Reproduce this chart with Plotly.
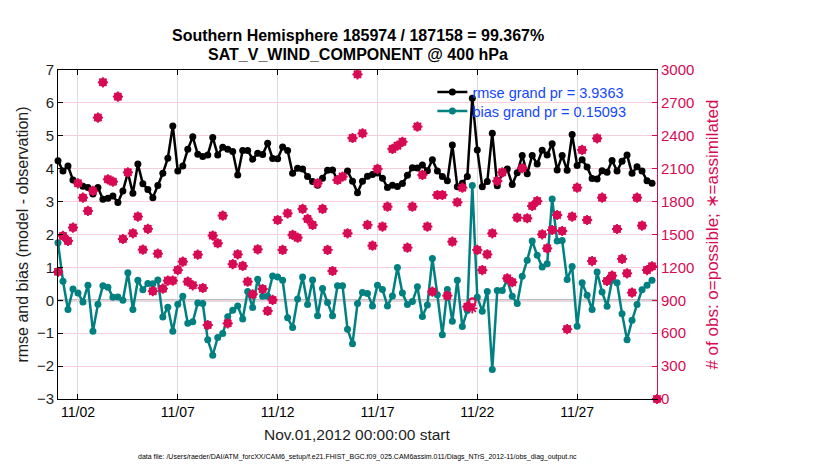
import pandas as pd
import plotly.graph_objects as go

# ---------------- data ----------------
times = pd.date_range("2012-11-01 00:00", periods=121, freq="6h")

rmse = [4.24, 3.93, 4.08, 3.66, 3.54, 3.47, 3.43, 3.23, 3.43, 3.07,
        3.10, 3.17, 2.97, 3.32, 3.88, 3.25, 4.14, 3.54, 3.37, 3.12,
        3.49, 3.86, 4.32, 5.30, 3.93, 4.08, 4.59, 4.97, 4.44, 4.37,
        4.42, 4.95, 4.42, 4.65, 4.59, 4.52, 3.81, 4.55, 4.55, 4.29,
        4.47, 4.43, 4.77, 4.31, 4.30, 4.66, 4.55, 3.86, 4.01, 3.99,
        3.76, 3.61, 3.50, 3.71, 3.95, 3.96, 3.65, 3.76, 3.93, 3.62,
        3.27, 3.62, 3.77, 3.82, 3.87, 3.71, 3.43, 3.50, 3.46, 3.55,
        3.80, 4.03, 4.02, 4.11, 3.94, 4.27, 3.93, 3.76, 3.63, 4.72,
        3.45, 3.56, 3.76, 6.14, 4.57, 3.45, 3.61, 5.08, 3.48, 3.86,
        3.99, 3.52, 3.88, 4.40, 3.85, 4.40, 4.14, 4.56, 4.42, 4.76,
        3.96, 4.40, 3.95, 5.04, 4.10, 4.27, 4.05, 3.70, 3.69, 3.94,
        3.89, 4.25, 3.93, 4.23, 4.42, 3.86, 4.06, 3.93, 3.63, 3.56,
        None]

bias = [1.75, 0.58, -0.28, 0.34, 0.22, -0.05, 0.46, -0.94, -0.12, 0.44,
        0.40, 0.09, 0.10, 0.00, 0.84, -0.28, 0.61, 0.32, 0.51, 0.50,
        0.62, -0.51, -0.21, -0.94, -0.12, 0.12, -0.70, -0.65, -0.08, -0.10,
        -1.20, -1.67, -1.13, -1.01, -0.50, -0.30, -0.17, -0.57, 0.27, -0.22,
        0.64, 0.12, 0.12, 0.74, 0.71, 0.61, -0.53, -0.83, 0.04, 0.71,
        -0.13, 0.62, -0.47, 0.36, -0.07, -0.47, 0.44, 0.44, -0.88, -1.32,
        -0.10, 0.24, 0.21, -0.17, 0.46, 0.33, -0.17, 0.13, 1.00, 0.22,
        -0.13, -0.04, 0.41, -0.49, -0.14, 1.27, 0.17, -1.05, 0.33, -0.64,
        0.61, -0.80, -0.31, 3.49, 0.09, -0.33, 0.27, -2.10, 0.30, 0.30,
        0.62, 0.12, -0.10, 0.73, 1.22, 1.80, 1.37, 1.01, 1.11, 3.08,
        1.80, 1.82, 0.63, 1.03, -0.79, 0.53, 0.15, -0.28, 0.86, 0.25,
        -0.18, 0.61, 0.53, -0.41, -1.20, -0.61, -0.13, 0.32, 0.46, 0.61,
        None]

n_used = [1160, 1487, 1441, 1563, 1967, 1836, 1715, 1897, 2566, 2888,
          2003, 1982, 2757, 1459, 2067, 1511, 1663, 1362, 1552, 983,
          1325, 1006, 1080, 1080, 1176, 1252, 1070, 1037, 1316, 1012,
          675, 1490, 1420, 1672, 690, 1230, 1319, 1213, 1070, 955,
          1365, 1003, 803, 903, 1632, 1359, 1693, 1496, 1471, 1733,
          1642, 1587, 1967, 1733, 1359, 1167, 1997, 2028, 1511, 2380,
          2961, 2423, 1587, 1398, 2098, 1572, 1754, 2280, 2310, 2345,
          1380, 1754, 2484, 2043, 1572, 979, 1860, 1860, 942, 1435,
          1794, 1927, 842, 827, 1359, 1176, 1319, 1511, 1988, 2067,
          1100, 1065, 1654, 2104, 1648, 1760, 1805, 1502, 1374, 1541,
          1678, 1532, 638, 1663, 1927, 2271, 1632, 1258, 2377, 1836,
          1076, 1125, 1550, 1277, 1146, 970, 1836, 1581, 1176, 1210,
          0]

n_poss = list(n_used)
n_poss[83] = 888

xtick_vals = ["2012-11-02", "2012-11-07", "2012-11-12", "2012-11-17", "2012-11-22", "2012-11-27"]
xtick_text = ["11/02", "11/07", "11/12", "11/17", "11/22", "11/27"]

rmse_label = "rmse grand pr = 3.9363"
bias_label = "bias grand pr = 0.15093"
title1 = "Southern Hemisphere 185974 / 187158 = 99.367%"
title2 = "SAT_V_WIND_COMPONENT @ 400 hPa"

# ---------------- style ----------------
FONT = "Liberation Sans, Arial, Helvetica, sans-serif"
RED = "rgb(215,10,83)"
TEAL = "rgb(0,128,128)"
BLUE = "rgb(20,70,255)"

fig = go.Figure()

fig.add_trace(go.Scatter(x=times, y=rmse, mode="lines+markers", name=rmse_label,
                         line=dict(color="black", width=2.5),
                         marker=dict(color="black", size=7, symbol="circle"),
                         cliponaxis=False, legend="legend"))
fig.add_trace(go.Scatter(x=times, y=bias, mode="lines+markers", name=bias_label,
                         line=dict(color=TEAL, width=2.5),
                         marker=dict(color=TEAL, size=7, symbol="circle"),
                         cliponaxis=False, legend="legend2"))
fig.add_trace(go.Scatter(x=times, y=n_poss, mode="markers", yaxis="y2", showlegend=False,
                         marker=dict(symbol="circle-open", size=6.5, color=RED,
                                     line=dict(color=RED, width=2.2)),
                         cliponaxis=False))
fig.add_trace(go.Scatter(x=times, y=n_used, mode="markers", yaxis="y2", showlegend=False,
                         marker=dict(symbol="asterisk-open", size=8.5, color=RED,
                                     line=dict(color=RED, width=1.8)),
                         cliponaxis=False))

fig.add_shape(type="line", xref="paper", x0=0, x1=1, yref="y", y0=0, y1=0,
              line=dict(color="rgb(190,190,190)", width=2.5), layer="below")

legend_common = dict(xanchor="left", yanchor="middle", bgcolor="rgba(0,0,0,0)",
                     borderwidth=0, font=dict(family=FONT, size=14.5, color=BLUE),
                     itemwidth=30)

fig.update_layout(
    width=822, height=462,
    margin=dict(l=50, r=173, t=62, b=71),
    paper_bgcolor="white", plot_bgcolor="white",
    font=dict(family=FONT, size=14, color="black"),
    showlegend=True,
    legend=dict(x=0.625, y=0.933, **legend_common),
    legend2=dict(x=0.625, y=0.875, **legend_common),
    xaxis=dict(type="date", range=[times[0], times[-1]],
               tickmode="array", tickvals=xtick_vals, ticktext=xtick_text,
               ticks="inside", ticklen=5, tickcolor="black",
               showline=True, linecolor="black", linewidth=1, mirror="ticks",
               showgrid=True, gridcolor="rgb(220,220,220)", gridwidth=1,
               zeroline=False, tickfont=dict(size=14, color="black")),
    yaxis=dict(range=[-3, 7], dtick=1, ticks="inside", ticklen=5, tickcolor="black",
               showline=True, linecolor="black", linewidth=1,
               showgrid=False, zeroline=False, tickfont=dict(size=15, color="rgb(30,30,30)")),
    yaxis2=dict(range=[0, 3000], dtick=300, overlaying="y", side="right",
                ticks="inside", ticklen=5, tickcolor=RED,
                showline=True, linecolor=RED, linewidth=1,
                showgrid=True, gridcolor="rgb(248,205,220)", gridwidth=1,
                zeroline=False, tickfont=dict(size=15, color=RED)),
)

fig.add_annotation(text="<b>" + title1 + "</b>", xref="paper", yref="paper",
                   x=0.5, y=1.106, xanchor="center", yanchor="middle", showarrow=False,
                   font=dict(size=16, color="black"))
fig.add_annotation(text="<b>" + title2 + "</b>", xref="paper", yref="paper",
                   x=0.5, y=1.046, xanchor="center", yanchor="middle", showarrow=False,
                   font=dict(size=16, color="black"))
fig.add_annotation(text="rmse and bias (model - observation)", xref="paper", yref="paper",
                   x=-0.060, y=0.5, xanchor="center", yanchor="middle", textangle=-90,
                   showarrow=False, font=dict(size=16, color="rgb(30,30,30)"))
fig.add_annotation(text="# of obs: o=possible; \u2217=assimilated", xref="paper", yref="paper",
                   x=1.092, y=0.5, xanchor="center", yanchor="middle", textangle=-90,
                   showarrow=False, font=dict(size=17, color=RED))
fig.add_annotation(text="Nov.01,2012 00:00:00 start", xref="paper", yref="paper",
                   x=0.5, y=-0.109, xanchor="center", yanchor="middle",
                   showarrow=False, font=dict(size=15.5, color="rgb(30,30,30)"))
fig.add_annotation(text="data file: /Users/raeder/DAI/ATM_forcXX/CAM6_setup/f.e21.FHIST_BGC.f09_025.CAM6assim.011/Diags_NTrS_2012-11/obs_diag_output.nc",
                   xref="paper", yref="paper", x=0.5, y=-0.176, xanchor="center", yanchor="middle",
                   showarrow=False, font=dict(size=7, color="black"))

fig.write_html("out.html")
